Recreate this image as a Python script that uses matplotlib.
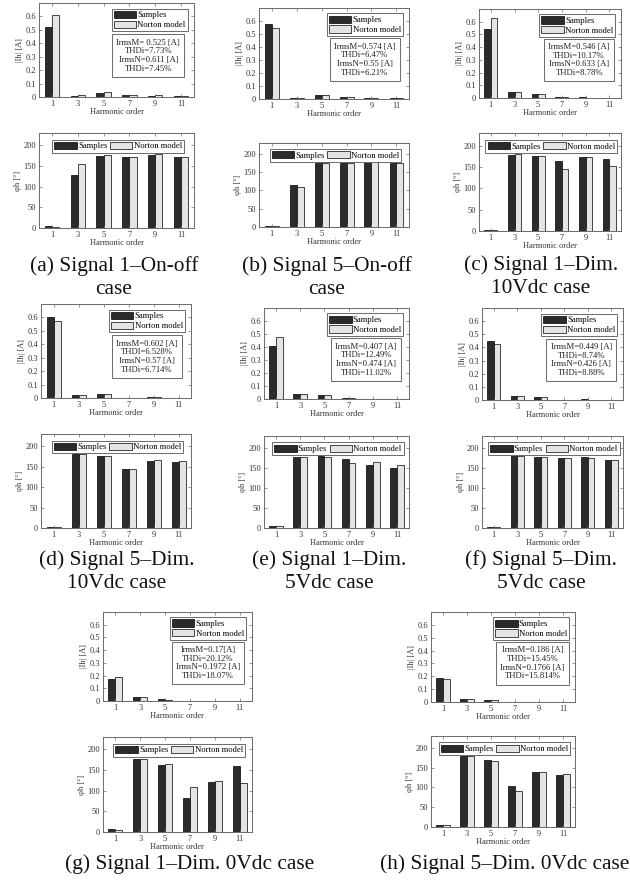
import numpy as np
import matplotlib
matplotlib.use('Agg')
import matplotlib.pyplot as plt

plt.rcParams['font.family'] = ['Liberation Serif', 'DejaVu Serif']

W, H = 630, 889

harmonics = ['1', '3', '5', '7', '9', '11']

# |Ih| [A] and phase [deg], samples vs norton model, one set per panel
magS_a = [0.525, 0.010, 0.033, 0.018, 0.010, 0.007]
magN_a = [0.610, 0.018, 0.035, 0.013, 0.012, 0.005]
phS_a = [4, 129, 175, 172, 176, 172]
phN_a = [3, 155, 177, 171, 178, 173]
txt_a = ['IrmsM= 0.525 [A]', 'THDi=7.73%', 'IrmsN=0.611 [A]', 'THDi=7.45%']

magS_b = [0.574, 0.005, 0.033, 0.015, 0.010, 0.007]
magN_b = [0.550, 0.006, 0.030, 0.012, 0.010, 0.006]
phS_b = [3, 114, 177, 175, 180, 176]
phN_b = [3, 110, 176, 174, 179, 176]
txt_b = ['IrmsM=0.574 [A]', 'THDi=6.47%', 'IrmsN=0.55 [A]', 'THDi=6.21%']

magS_c = [0.546, 0.045, 0.032, 0.007, 0.006, 0.003]
magN_c = [0.633, 0.045, 0.030, 0.006, 0.003, 0.002]
phS_c = [3, 179, 177, 165, 173, 170]
phN_c = [2, 180, 175, 145, 173, 152]
txt_c = ['IrmsM=0.546 [A]', 'THDi=10.17%', 'IrmsN=0.633 [A]', 'THDi=8.78%']

magS_d = [0.602, 0.025, 0.030, 0.003, 0.006, 0.003]
magN_d = [0.570, 0.023, 0.030, 0.003, 0.006, 0.002]
phS_d = [2, 180, 175, 144, 165, 161]
phN_d = [2, 180, 176, 144, 167, 163]
txt_d = ['IrmsM=0.602 [A]', 'THDI=6.528%', 'IrmsN=0.57 [A]', 'THDi=6.714%']

magS_e = [0.407, 0.040, 0.028, 0.006, 0.003, 0.002]
magN_e = [0.474, 0.038, 0.028, 0.004, 0.002, 0.003]
phS_e = [4, 178, 179, 173, 158, 150]
phN_e = [4, 178, 178, 163, 164, 158]
txt_e = ['IrmsM=0.407 [A]', 'THDi=12.49%', 'IrmsN=0.474 [A]', 'THDi=11.02%']

magS_f = [0.449, 0.030, 0.025, 0.003, 0.005, 0.002]
magN_f = [0.426, 0.030, 0.026, 0.003, 0.003, 0.002]
phS_f = [2, 179, 178, 175, 177, 169]
phN_f = [3, 179, 177, 175, 175, 169]
txt_f = ['IrmsM=0.449 [A]', 'THDi=8.74%', 'IrmsN=0.426 [A]', 'THDi=8.88%']

magS_g = [0.170, 0.030, 0.012, 0.003, 0.003, 0.002]
magN_g = [0.190, 0.032, 0.010, 0.003, 0.003, 0.003]
phS_g = [7, 176, 162, 82, 120, 159]
phN_g = [6, 176, 164, 108, 124, 119]
txt_g = ['IrmsM=0.17[A]', 'THDi=20.12%', 'IrmsN=0.1972 [A]', 'THDi=18.07%']

magS_h = [0.186, 0.025, 0.012, 0.002, 0.002, 0.002]
magN_h = [0.1766, 0.025, 0.013, 0.002, 0.002, 0.002]
phS_h = [6, 180, 170, 103, 138, 132]
phN_h = [6, 180, 167, 90, 139, 135]
txt_h = ['IrmsM=0.186 [A]', 'THDi=15.45%', 'IrmsN=0.1766 [A]', 'THDi=15.814%']

captions = ['(a) Signal 1\u2013On-off\ncase', '(b) Signal 5\u2013On-off\ncase',
            '(c) Signal 1\u2013Dim.\n10Vdc case', '(d) Signal 5\u2013Dim.\n10Vdc case',
            '(e) Signal 1\u2013Dim.\n5Vdc case', '(f) Signal 5\u2013Dim.\n5Vdc case',
            '(g) Signal 1\u2013Dim. 0Vdc case', '(h) Signal 5\u2013Dim. 0Vdc case']

# pixel boxes: left, right, mag top, mag bottom, phase top, phase bottom
boxes = [(39, 194, 3, 97, 133, 228), (259, 409, 8, 99, 143, 227),
         (479, 621, 9, 98, 133, 231), (41, 191, 304, 398, 434, 528),
         (264, 409, 308, 399, 436, 528), (482, 623, 308, 400, 436, 528),
         (103, 252, 612, 701, 737, 832), (431, 575, 612, 702, 736, 827)]
# caption centre x, top y of the text block
cap_pos = [(114, 256), (327, 256), (541, 255), (117, 550), (329, 550), (541, 550),
           (190, 854), (505, 854)]

DARK = '#2b2b2b'
LIGHT = '#e4e4e4'
AX = '#6a6a6a'
FS = 6.0
LFS = 6.2


def rect(l, r, t, b):
    return [l / W, 1 - b / H, (r - l) / W, (b - t) / H]


def style(ax):
    for s in ax.spines.values():
        s.set_color(AX)
        s.set_linewidth(0.7)
    ax.tick_params(direction='in', top=True, right=True, length=2, width=0.5,
                   colors=AX, labelcolor='#333333', labelsize=FS, pad=2)
    ax.set_xticks(np.arange(6))
    ax.set_xticklabels(harmonics)
    ax.set_xlim(-0.5, 5.5)
    ax.set_xlabel('Harmonic order', fontsize=FS, color='#333333', labelpad=0.5)


def draw_panel(fig, box, magS, magN, phS, phN, txt):
    l, r, mt, mb, pt, pb = box
    x = np.arange(len(magS))
    w = 0.28
    ax1 = fig.add_axes(rect(l, r, mt, mb))
    ax1.bar(x - w / 2, magS, w, color=DARK, edgecolor='black', linewidth=0.5, label='Samples')
    ax1.bar(x + w / 2, magN, w, color=LIGHT, edgecolor='black', linewidth=0.5, label='Norton model')
    ax1.set_ylim(0, 0.7)
    ax1.set_yticks(np.arange(0, 0.61, 0.1))
    ax1.set_yticklabels(['0', '0.1', '0.2', '0.3', '0.4', '0.5', '0.6'])
    style(ax1)
    ax1.set_ylabel('|Ih| [A]', fontsize=FS, color='#333333', labelpad=1)
    leg = ax1.legend(loc='upper right', bbox_to_anchor=(0.96, 0.94), fontsize=LFS,
                     handlelength=2.6, handleheight=0.9, handletextpad=0.15,
                     borderpad=0.25, labelspacing=0.15, fancybox=False, framealpha=1,
                     borderaxespad=0)
    leg.get_frame().set_edgecolor(AX)
    leg.get_frame().set_linewidth(0.7)
    ax1.text(0.705, 0.62, '\n'.join(txt), transform=ax1.transAxes, ha='center', va='top',
             fontsize=LFS, linespacing=1.12, color='#222222',
             bbox=dict(boxstyle='square,pad=0.5', fc='white', ec=AX, lw=0.7))

    ax2 = fig.add_axes(rect(l, r, pt, pb))
    ax2.bar(x - w / 2, phS, w, color=DARK, edgecolor='black', linewidth=0.5, label='Samples')
    ax2.bar(x + w / 2, phN, w, color=LIGHT, edgecolor='black', linewidth=0.5, label='Norton model')
    ax2.set_ylim(0, 230)
    ax2.set_yticks([0, 50, 100, 150, 200])
    style(ax2)
    ax2.set_ylabel('\u03c6h [\u00b0]', fontsize=FS, color='#333333', labelpad=1)
    leg2 = ax2.legend(loc='upper center', bbox_to_anchor=(0.51, 0.93), ncol=2, fontsize=LFS,
                      handlelength=2.6, handleheight=0.9, handletextpad=0.15,
                      columnspacing=0.3, borderpad=0.25, fancybox=False, framealpha=1,
                      borderaxespad=0)
    leg2.get_frame().set_edgecolor(AX)
    leg2.get_frame().set_linewidth(0.7)


fig = plt.figure(figsize=(W / 100, H / 100), dpi=100)

panels = [(magS_a, magN_a, phS_a, phN_a, txt_a), (magS_b, magN_b, phS_b, phN_b, txt_b),
          (magS_c, magN_c, phS_c, phN_c, txt_c), (magS_d, magN_d, phS_d, phN_d, txt_d),
          (magS_e, magN_e, phS_e, phN_e, txt_e), (magS_f, magN_f, phS_f, phN_f, txt_f),
          (magS_g, magN_g, phS_g, phN_g, txt_g), (magS_h, magN_h, phS_h, phN_h, txt_h)]

for i, p in enumerate(panels):
    draw_panel(fig, boxes[i], *p)
    cx, cy = cap_pos[i]
    fig.text(cx / W, 1 - cy / H, captions[i], ha='center', va='top',
             fontsize=15.4, linespacing=1.28, color='#111111')

fig.savefig('out.png', dpi=100)
